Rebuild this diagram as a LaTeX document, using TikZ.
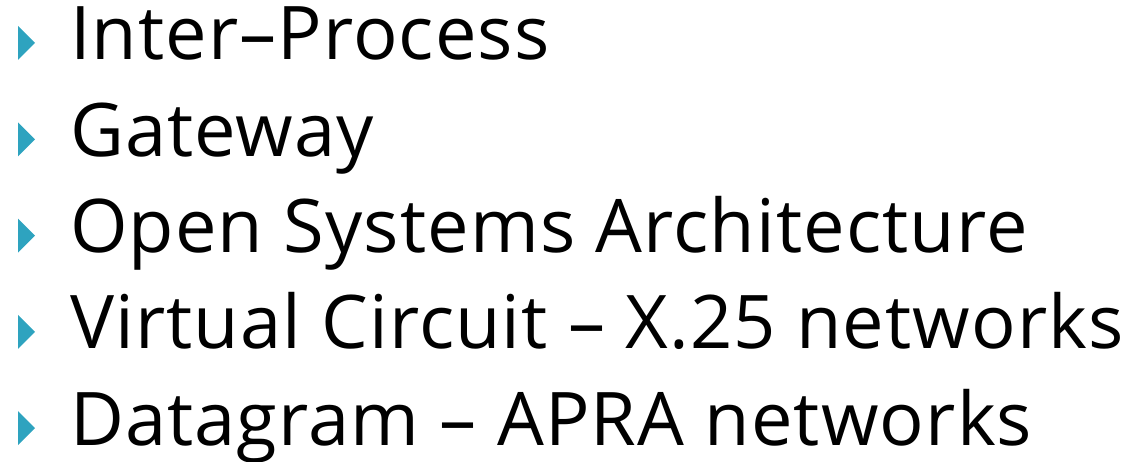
\documentclass[tikz,border=0pt]{standalone}
\usepackage{fontspec}
\setmainfont{Open Sans}[LetterSpace=1.5]
\definecolor{bulletblue}{HTML}{2EA3BF}

\begin{document}
\begin{tikzpicture}[x=1pt, y=-1pt,
    item/.style={anchor=base west, inner sep=0pt, font=\fontsize{74}{88}\selectfont},
    bullet/.style={fill=bulletblue}]

  %% ==== bullets + lines ====
  \foreach \i/\txt in {1/Inter--Process,
                       2/Gateway,
                       3/Open Systems Architecture,
                       4/Virtual Circuit -- X.25 networks,
                       5/Datagram -- APRA networks}
  {
    \pgfmathsetmacro{\yb}{60+96.3*(\i-1)}
    \fill[bullet] (18,\yb-34) -- (35,\yb-17) -- (18,\yb) -- cycle;
    \node[item] (item\i) at (70,\yb) {\txt};
  }

  %% fix the canvas
  \pgfresetboundingbox
  \path[use as bounding box] (0,0) rectangle (1132,462);
\end{tikzpicture}
\end{document}
